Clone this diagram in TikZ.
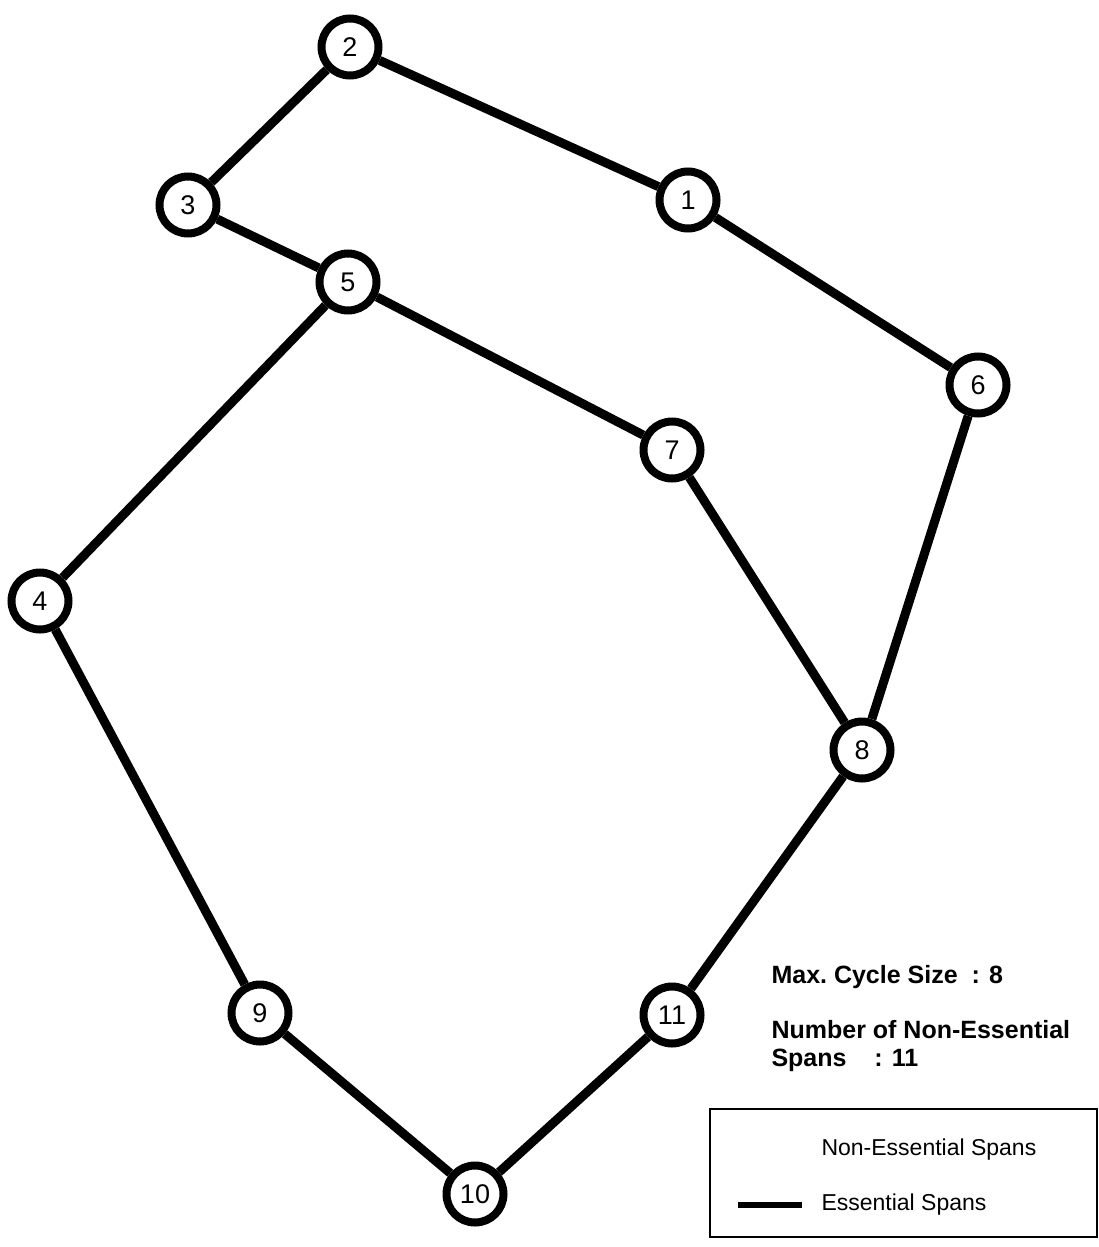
\documentclass[tikz,border=0pt]{standalone}
\usepackage{fontspec}
\setmainfont{Liberation Sans}
\usetikzlibrary{positioning}

\tikzset{
    site/.style={circle, draw, fill=white, line width=8pt, minimum size=57pt, inner sep=0pt, font=\fontsize{27}{32}\selectfont},
    span/.style={line width=9pt},
    stat/.style={anchor=west, font=\fontsize{25}{28}\selectfont\bfseries, align=left},
    legtext/.style={anchor=west, font=\fontsize{23}{27}\selectfont}
}

\begin{document}
\begin{tikzpicture}[x=1pt, y=-1pt]
    \useasboundingbox (0,0) rectangle (1099,1247);

    % sites
    \node[site] (n1) at (688,200) {1};
    \node[site] (n2) at (350,47) {2};
    \node[site] (n3) at (188,205) {3};
    \node[site] (n4) at (40,601) {4};
    \node[site] (n5) at (348,282) {5};
    \node[site] (n6) at (978,385) {6};
    \node[site] (n7) at (672,450) {7};
    \node[site] (n8) at (862,750) {8};
    \node[site] (n9) at (260,1013) {9};
    \node[site] (n10) at (475,1194) {10};
    \node[site] (n11) at (672,1015) {11};

    % essential spans
    \foreach \a/\b in {2/3, 2/1, 1/6, 3/5, 5/7, 5/4, 7/8, 6/8, 4/9, 9/10, 10/11, 11/8}
        \draw[span] (n\a) -- (n\b);

    % statistics
    \node[stat] (cyc) at (768,977) {Max.\ Cycle Size~~: 8};
    \node[stat] (num) at (768,1046) {Number of Non-Essential\\Spans~~~~: 11};

    % legend
    \draw[line width=1.2pt] (710,1109) rectangle (1097,1237);
    \node[legtext] (lne) at (818,1150) {Non-Essential Spans};
    \node[legtext] (les) at (818,1205) {Essential Spans};
    \coordinate (la) at (738,1205);
    \coordinate (lb) at (802,1205);
    \draw[line width=6pt] (la) -- (lb);
\end{tikzpicture}
\end{document}
